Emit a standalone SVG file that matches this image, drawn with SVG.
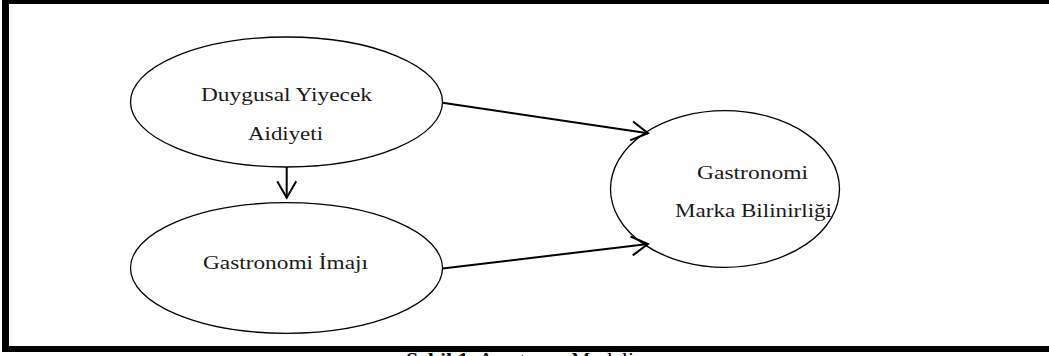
<svg xmlns="http://www.w3.org/2000/svg" width="1049" height="356" viewBox="0 0 1049 356">
<style>
.node ellipse{fill:#fff;stroke:#000;stroke-width:1.3}
.lbl{font-family:"Liberation Serif","Times New Roman",serif;font-size:19.5px;fill:#1a1a1a;text-anchor:middle}
.conn line{stroke:#000;stroke-width:2;fill:none}
.frame{fill:#000}
.cap{font-family:"Liberation Serif","Times New Roman",serif;font-size:18px;fill:#000;text-anchor:middle}
</style>
<defs>
<marker id="arr" markerUnits="userSpaceOnUse" viewBox="-20 -12 22 24" refX="0" refY="0" markerWidth="22" markerHeight="24" orient="auto">
<path d="M-16.5,-9.5 L0,0 L-16.5,9.5" fill="none" stroke="#000" stroke-width="2"/>
</marker>
</defs>
<rect width="1049" height="356" fill="#fff"/>
<g id="frame">
<rect class="frame" x="2" y="0" width="7" height="352"/>
<rect class="frame" x="2" y="0" width="1047" height="4"/>
<rect class="frame" x="2" y="346" width="1047" height="6"/>
</g>
<g id="n1" class="node">
<ellipse cx="286.5" cy="102" rx="156" ry="65"/>
<text class="lbl" x="286.5" y="100.5" textLength="171" lengthAdjust="spacingAndGlyphs">Duygusal Yiyecek</text>
<text class="lbl" x="285.5" y="140" textLength="75" lengthAdjust="spacingAndGlyphs">Aidiyeti</text>
</g>
<g id="n2" class="node">
<ellipse cx="286.5" cy="268" rx="156" ry="65.3"/>
<text class="lbl" x="285.5" y="269" textLength="165" lengthAdjust="spacingAndGlyphs">Gastronomi İmajı</text>
</g>
<g id="n3" class="node">
<ellipse cx="725" cy="189" rx="114.5" ry="78.3"/>
<text class="lbl" x="752.5" y="179" textLength="111" lengthAdjust="spacingAndGlyphs">Gastronomi</text>
<text class="lbl" x="753.5" y="217.3" textLength="157" lengthAdjust="spacingAndGlyphs">Marka Bilinirliği</text>
</g>
<g id="connectors" class="conn">
<line x1="442.5" y1="102.7" x2="648" y2="133.3" marker-end="url(#arr)"/>
<line x1="442.5" y1="268.5" x2="648" y2="244" marker-end="url(#arr)"/>
<line x1="286.7" y1="167" x2="286.7" y2="197.7" marker-end="url(#arr)"/>
</g>
<text class="cap" x="520" y="366" textLength="228" lengthAdjust="spacingAndGlyphs"><tspan font-weight="bold">Şekil 1.</tspan> Araştırma Modeli</text>
</svg>
